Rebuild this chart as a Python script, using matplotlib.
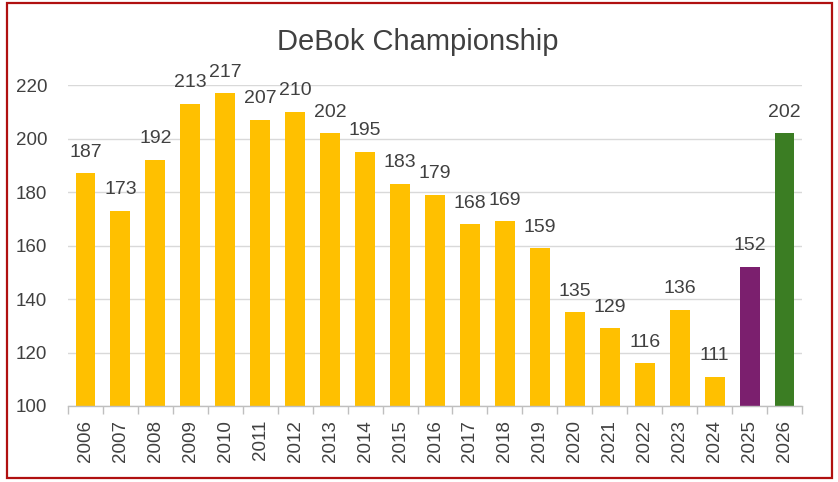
import matplotlib
matplotlib.use("Agg")
import matplotlib.pyplot as plt
from matplotlib.patches import Rectangle
import numpy as np

years = [str(y) for y in range(2006, 2027)]
values = [187, 173, 192, 213, 217, 207, 210, 202, 195, 183, 179, 168, 169, 159,
          135, 129, 116, 136, 111, 152, 202]
colors = ["#FFC000"] * 19 + ["#7B1F6E", "#3B7D23"]
yticks = [100, 120, 140, 160, 180, 200, 220]

plt.rcParams['font.family'] = ['Liberation Sans', 'DejaVu Sans']
W, H = 838, 482
fig = plt.figure(figsize=(W / 100, H / 100), dpi=100)
fig.patch.set_facecolor("white")

ax = fig.add_axes([68 / W, 1 - 406 / H, (802 - 68) / W, (406 - 85) / H])
x = np.arange(len(years))
ax.bar(x, [v - 100 for v in values], bottom=100, width=0.57, color=colors, zorder=3)
for xi, v in zip(x, values):
    ax.annotate(str(v), (xi, v), xytext=(0, 9), textcoords="offset points",
                ha="center", va="bottom", fontsize=14, color="#404040",
                annotation_clip=False)

ax.set_xlim(-0.5, len(years) - 0.5)
ax.set_ylim(100, 220)
ax.set_yticks(yticks)
ax.set_yticklabels([str(t) for t in yticks])
ax.set_xticks(x)
ax.set_xticklabels(years, rotation=90)
ax.set_xticks(np.arange(-0.5, len(years), 1), minor=True)
ax.tick_params(axis="x", which="major", length=0, pad=10, labelsize=13.5, colors="#404040")
ax.tick_params(axis="x", which="minor", length=6, color="#BFBFBF", width=1)
ax.tick_params(axis="y", length=0, pad=15, labelsize=13.5, colors="#404040")
ax.grid(axis="y", color="#D9D9D9", linewidth=1, zorder=0)
for s in ["top", "right", "left"]:
    ax.spines[s].set_visible(False)
ax.spines["bottom"].set_color("#BFBFBF")
ax.spines["bottom"].set_linewidth(1)
ax.spines["bottom"].set_zorder(4)

fig.text(418 / W, 1 - 42 / H, "DeBok Championship", ha="center", va="center",
         fontsize=21, color="#404040")

fig.patches.append(Rectangle((7 / W, 1 - 478 / H), (832 - 7) / W, (478 - 3) / H,
                             transform=fig.transFigure, fill=False,
                             edgecolor="#B01010", linewidth=1.6))

fig.savefig("out.png", dpi=100)
